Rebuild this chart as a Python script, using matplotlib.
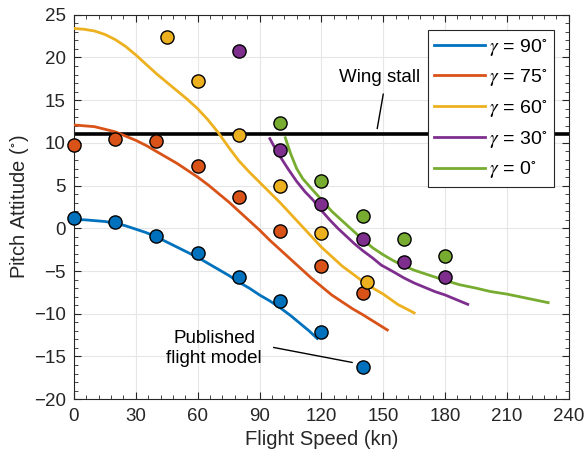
import numpy as np
import matplotlib
matplotlib.use('Agg')
import matplotlib.pyplot as plt
from matplotlib.ticker import MultipleLocator

plt.rcParams['font.family'] = ['Liberation Sans', 'DejaVu Sans']
plt.rcParams['mathtext.fontset'] = 'stix'

# flight test points (kn, deg)
spd_90 = [0, 20, 40, 60, 80, 100, 120, 140]
pit_90 = [1.2, 0.7, -0.9, -2.9, -5.7, -8.5, -12.1, -16.2]
spd_75 = [0, 20, 40, 60, 80, 100, 120, 140]
pit_75 = [9.7, 10.5, 10.2, 7.3, 3.7, -0.3, -4.4, -7.6]
spd_60 = [45, 60, 80, 100, 120, 142]
pit_60 = [22.4, 17.3, 10.9, 4.9, -0.5, -6.3]
spd_30 = [80, 100, 120, 140, 160, 180]
pit_30 = [20.8, 9.2, 2.9, -1.3, -3.9, -5.7]
spd_0 = [100, 120, 140, 160, 180]
pit_0 = [12.3, 5.5, 1.5, -1.3, -3.2]

# published flight model curves
mod_spd_90 = [0, 5, 10, 15, 20, 25, 30, 35, 40, 45, 50, 55, 60, 65, 70, 75, 80, 85, 90, 95,
              100, 105, 110, 114, 118]
mod_pit_90 = [1.0, 1.0, 0.9, 0.8, 0.6, 0.3, -0.1, -0.5, -1.0, -1.6, -2.2, -2.8, -3.4, -4.1,
              -4.8, -5.5, -6.3, -7.0, -7.8, -8.5, -9.3, -10.2, -11.2, -12.0, -12.9]
mod_spd_75 = [0, 5, 10, 15, 20, 25, 30, 35, 40, 45, 50, 55, 60, 65, 70, 75, 80, 85, 90, 95,
              100, 105, 110, 115, 120, 125, 130, 135, 140, 146, 152]
mod_pit_75 = [12.1, 12.0, 11.9, 11.6, 11.3, 10.8, 10.3, 9.7, 9.0, 8.3, 7.6, 6.8, 6.0, 5.1,
              4.1, 3.1, 2.0, 0.9, -0.2, -1.4, -2.5, -3.6, -4.7, -5.8, -6.8, -7.8, -8.6,
              -9.4, -10.1, -11.0, -11.9]
mod_spd_60 = [0, 5, 10, 15, 20, 25, 30, 35, 40, 45, 50, 55, 60, 65, 70, 75, 80, 85, 90, 95,
              100, 105, 110, 115, 120, 125, 130, 135, 140, 145, 150, 157, 165]
mod_pit_60 = [23.4, 23.3, 23.1, 22.7, 22.1, 21.3, 20.3, 19.2, 18.1, 17.1, 16.1, 15.1, 14.0,
              12.7, 11.2, 9.5, 7.9, 6.6, 5.4, 4.2, 3.0, 1.7, 0.4, -0.9, -2.2, -3.3, -4.4,
              -5.3, -6.2, -7.0, -7.7, -8.9, -9.9]
mod_spd_30 = [95, 97.5, 100, 104, 108, 112, 116, 120, 124, 128, 132, 136, 140, 145, 149,
              155, 160, 165, 170, 175, 180, 185, 191]
mod_pit_30 = [10.5, 9.4, 8.4, 6.9, 5.5, 4.3, 3.3, 2.1, 1.0, 0.0, -0.9, -1.8, -2.6, -3.5,
              -4.3, -5.1, -5.8, -6.4, -6.9, -7.4, -7.8, -8.3, -8.9]
mod_spd_0 = [102.5, 105, 108, 111, 115, 118, 121, 125, 130, 135, 140, 145, 150, 155, 160,
             165, 170, 175, 180, 187, 195, 202, 210, 220, 230]
mod_pit_0 = [10.6, 8.8, 7.0, 5.8, 4.7, 3.9, 3.1, 2.0, 0.9, -0.2, -1.3, -2.3, -3.1, -3.8,
             -4.4, -4.9, -5.3, -5.7, -6.1, -6.6, -7.0, -7.4, -7.7, -8.2, -8.7]

stall_pitch = 11
labels = [r'$\gamma$ = 90$^{\circ}$', r'$\gamma$ = 75$^{\circ}$', r'$\gamma$ = 60$^{\circ}$',
          r'$\gamma$ = 30$^{\circ}$', r'$\gamma$ = 0$^{\circ}$']
colors = ['#0072BD', '#D95319', '#EDB120', '#7E2F8E', '#77AC30']

fig = plt.figure(figsize=(5.87, 4.62), dpi=100)
ax = fig.add_axes([0.126, 0.136, 0.843, 0.832])

axc = '#262626'
ax.axhline(stall_pitch, color='black', lw=2.6, zorder=2)

models = [(mod_spd_90, mod_pit_90), (mod_spd_75, mod_pit_75), (mod_spd_60, mod_pit_60),
          (mod_spd_30, mod_pit_30), (mod_spd_0, mod_pit_0)]
points = [(spd_90, pit_90), (spd_75, pit_75), (spd_60, pit_60),
          (spd_30, pit_30), (spd_0, pit_0)]

lines = []
for (xs, ys), c, lab in zip(models, colors, labels):
    l, = ax.plot(xs, ys, color=c, lw=2, label=lab, zorder=3)
    lines.append(l)
for (xs, ys), c in zip(points, colors):
    ax.plot(xs, ys, 'o', ms=9.5, mfc=c, mec='black', mew=1, ls='none', zorder=4,
            clip_on=False)

ax.set_xlim(0, 240)
ax.set_ylim(-20, 25)
ax.xaxis.set_major_locator(MultipleLocator(30))
ax.xaxis.set_minor_locator(MultipleLocator(6))
ax.yaxis.set_major_locator(MultipleLocator(5))
ax.yaxis.set_minor_locator(MultipleLocator(1))
ax.tick_params(which='both', direction='in', top=True, right=True, colors=axc,
               labelsize=13.5, labelcolor='#262626')
ax.tick_params(which='major', length=5, pad=6)
ax.tick_params(which='minor', length=3)
for s in ax.spines.values():
    s.set_color(axc)
    s.set_linewidth(0.8)
ax.grid(True, which='major', color='#e6e6e6', lw=0.8)
ax.set_axisbelow(True)

ax.set_xlabel('Flight Speed (kn)', fontsize=14.5, color='#262626', labelpad=4)
ax.set_ylabel(r'Pitch Attitude ($^{\circ}$)', fontsize=14.5, color='#262626', labelpad=2)

ax.text(148, 17.7, 'Wing stall', fontsize=13.5, ha='center', va='center')
ax.plot([150, 147.1], [15.7, 11.7], color='black', lw=1, zorder=3)
ax.text(68, -14.1, 'Published\nflight model', fontsize=13.5, ha='center', va='center',
        linespacing=1.25)
ax.plot([96.9, 134.9], [-13.95, -15.7], color='black', lw=1, zorder=3)

leg = ax.legend(handles=lines, loc='upper right', bbox_to_anchor=(0.970, 0.961),
                borderaxespad=0, fontsize=14, fancybox=False, framealpha=1,
                edgecolor='#262626', handlelength=2.6, handletextpad=0.2,
                labelspacing=0.5, borderpad=0.35)
leg.get_frame().set_linewidth(0.8)
leg.set_zorder(5)

fig.savefig('out.png', dpi=100)
